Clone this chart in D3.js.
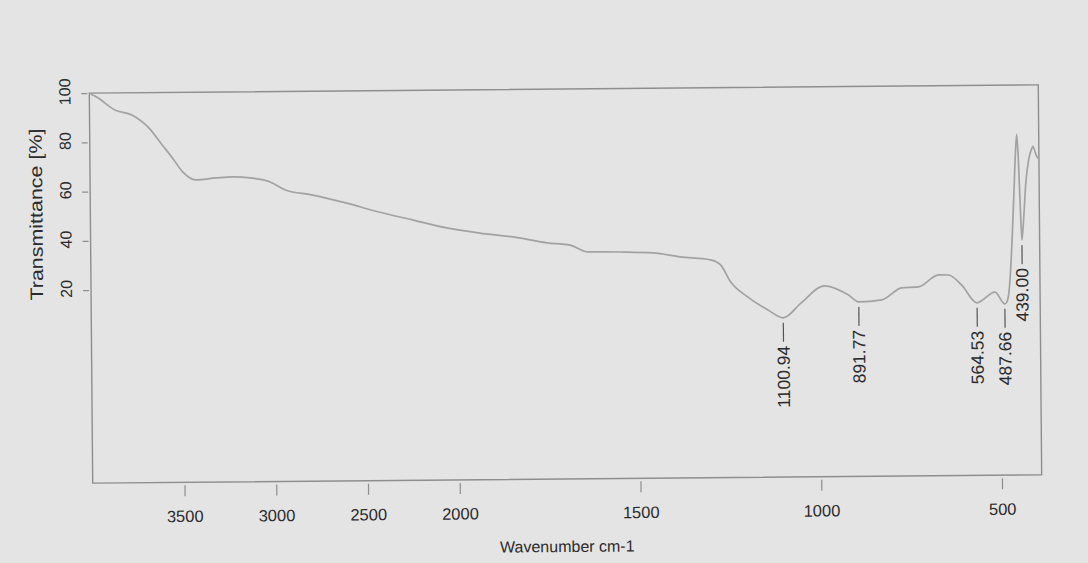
<!DOCTYPE html>
<html><head><meta charset="utf-8">
<script src="https://cdn.jsdelivr.net/npm/d3@7"></script>
<style>
html,body{margin:0;padding:0;background:#e4e4e4;}
svg{display:block;}
</style></head><body>
<svg id="chart" width="1088" height="563"></svg>
<script>
// Spectrum (wavenumber in cm-1, transmittance in %)
const wavenumbers = [4000,3960,3862,3769,3676,3605,3550,3495,3424,3314,3221,3128,3019,2936,2794,2608,2427,2246,2060,1939,1847,1753,1689,1642,1551,1459,1384,1301,1273,1246,1199,1143,1101,1051,987,921,892,828,773,726,670,643,607,565,515,488,482,476,468,460,455,451,447,443,439,434,427,418,410,406,401,396,390];
const transmittance = [100,98.4,93.1,91.0,85.6,78.7,73.4,67.7,64.4,65.1,65.5,65.0,63.3,60.0,57.9,54.5,50.7,47.4,44.0,41.8,40.1,37.6,36.6,33.8,33.6,33.1,31.4,30.1,28.0,21.1,14.9,9.5,6.3,12.3,19.1,15.4,12.5,13.2,18.0,18.4,23.2,23.1,19.0,11.7,16.0,11.2,12,16,32,56,72,80,70,52,37,45,60,70,74,75,73,71,70];
const xTickValues = [3500,3000,2500,2000,1500,1000,500];
const yTickValues = [20,40,60,80,100];
const peakWavenumbers = [1100.94,891.77,564.53,487.66,439.00];
const peakTransmittance = [6.3,12.5,11.7,11.2,37];
const peakLabels = ["1100.94","891.77","564.53","487.66","439.00"];
const xTitle = "Wavenumber cm-1";
const yTitle = "Transmittance [%]";

const L = 91, R = 1040, T = 89, B = 479;
const svg = d3.select("#chart");
const g = svg.append("g").attr("transform", "rotate(-0.5,565,285)");

const x = d3.scaleLinear().domain([4000, 2000, 390]).range([L, 458, R]);
const y = d3.scaleLinear().domain([-58.4, 100]).range([B, T]);

const font = "'Liberation Sans', Arial, sans-serif";
const textColor = "#2b2b2b";
const frameColor = "#8e8e8e";

// frame
g.append("rect").attr("x", L).attr("y", T).attr("width", R - L).attr("height", B - T)
  .attr("fill", "none").attr("stroke", frameColor).attr("stroke-width", 1.4);

// x axis
const xAxis = g.append("g").attr("transform", `translate(0,${B + 3})`)
  .call(d3.axisBottom(x).tickValues(xTickValues).tickSize(11).tickPadding(14).tickFormat(d3.format("d")));
xAxis.select(".domain").remove();
xAxis.selectAll(".tick line").attr("stroke", frameColor).attr("stroke-width", 1.2);
xAxis.selectAll(".tick text").attr("fill", textColor).style("font-family", font).style("font-size", "16.5px");

// y axis
const yAxis = g.append("g").attr("transform", `translate(${L - 2},0)`)
  .call(d3.axisLeft(y).tickValues(yTickValues).tickSize(6).tickFormat(d3.format("d")));
yAxis.select(".domain").remove();
yAxis.selectAll(".tick line").attr("stroke", frameColor).attr("stroke-width", 1.2);
yAxis.selectAll(".tick text")
  .attr("x", null).attr("dy", null)
  .attr("transform", "translate(-17,-2) rotate(-90)")
  .attr("text-anchor", "middle")
  .attr("fill", textColor).style("font-family", font).style("font-size", "16px");

// titles
g.append("text").attr("x", 565).attr("y", 552).attr("text-anchor", "middle")
  .attr("fill", textColor).style("font-family", font).style("font-size", "16px").text(xTitle);
g.append("text").attr("transform", "translate(43,210) rotate(-90)").attr("text-anchor", "middle")
  .attr("textLength", 172).attr("lengthAdjust", "spacingAndGlyphs")
  .attr("fill", textColor).style("font-family", font).style("font-size", "18px").text(yTitle);

// spectrum
const pts = wavenumbers.map((w, i) => [w, transmittance[i]]);
g.append("path").datum(pts)
  .attr("fill", "none").attr("stroke", "#a2a2a2").attr("stroke-width", 1.7)
  .attr("d", d3.line().x(d => x(d[0])).y(d => y(d[1])).curve(d3.curveMonotoneX));

// peak labels
peakWavenumbers.forEach((w, i) => {
  const px = x(w), py = y(peakTransmittance[i]);
  g.append("line").attr("x1", px).attr("x2", px).attr("y1", py + 5).attr("y2", py + 24)
    .attr("stroke", "#555").attr("stroke-width", 1.2);
  g.append("text").attr("transform", `translate(${px + 6},${py + 28}) rotate(-90)`)
    .attr("text-anchor", "end").attr("fill", textColor)
    .style("font-family", font).style("font-size", "17.5px").text(peakLabels[i]);
});
</script>
</body></html>
